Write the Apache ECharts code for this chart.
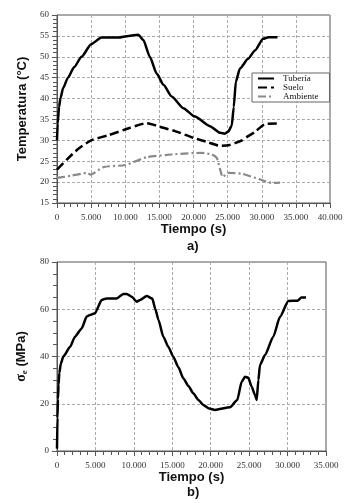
<!DOCTYPE html>
<html>
<head>
<meta charset="utf-8">
<script src="https://cdn.jsdelivr.net/npm/echarts@6/dist/echarts.min.js"></script>
<style>
  html, body { margin: 0; padding: 0; background: #fff; }
  #main { width: 350px; height: 503px; }
</style>
</head>
<body>
<div id="main"></div>
<script>
// a) temperaturas
var tiempoTub = [0, 100, 300, 500, 900, 1600, 2500, 3600, 5000, 6500, 9000, 10500, 11900, 12650, 13600, 14600, 15600, 16800, 18500, 20200, 22400, 23900, 24600, 25100, 25600, 25900, 26200, 26800, 28000, 29000, 30200, 31000, 32300];
var tempTub = [30, 34, 38, 40, 42.5, 45, 47.5, 50, 53, 54.6, 54.6, 55, 55.3, 54, 50, 46, 43.3, 40.5, 37.7, 35.7, 33.4, 31.8, 31.6, 32.1, 33.5, 38, 44, 47.2, 49.5, 51.5, 54.3, 54.7, 54.7];

var tiempoSue = [0, 1500, 3000, 5000, 7500, 10700, 13100, 15600, 17300, 20000, 22000, 23900, 25300, 26000, 27100, 28000, 29000, 30500, 32300];
var tempSue = [23, 25.5, 27.8, 30, 31.2, 33, 34.1, 33, 32.2, 30.6, 29.6, 28.7, 28.9, 29.3, 30, 31, 32, 33.9, 34];

var tiempoAmb = [0, 2000, 4400, 4900, 6800, 10000, 13200, 16100, 17300, 21200, 22700, 23400, 23900, 24300, 25000, 27100, 30000, 31500, 32700];
var tempAmb = [21, 21.5, 22.2, 21.8, 23.6, 24.1, 26, 26.5, 26.7, 27, 26.6, 25.8, 23, 21.2, 22.2, 22, 20.5, 19.8, 19.9];

// b) tension equivalente
var tiempoTen = [0, 60, 120, 200, 300, 500, 820, 1690, 2340, 3210, 3860, 4290, 4940, 5810, 6460, 7770, 8630, 9070, 9720, 10370, 10800, 11670, 12400, 12800, 13200, 13830, 14500, 15130, 15800, 16430, 17100, 17730, 18400, 19030, 19800, 20560, 22510, 23460, 24020, 24460, 24890, 25330, 25760, 25980, 26200, 26410, 27060, 28140, 29010, 30100, 31300, 31800, 32400];
var tension = [1, 14, 22, 28, 33, 37, 40, 44, 48.4, 51.9, 56.9, 57.6, 58.3, 63.9, 64.6, 64.6, 66.5, 66.5, 65.3, 63.2, 63.9, 65.6, 64.5, 60, 55.5, 48.4, 44, 39.9, 35.4, 30.8, 27.5, 24.4, 21.6, 19.5, 18, 17.4, 18.5, 21.6, 29.3, 31.4, 31, 27.2, 23.7, 21.6, 30, 36.4, 40.6, 48.4, 56.8, 63.5, 63.6, 65, 65];

var pares = function(xs, ys){
	var out = [];
	for(var i=0;i<xs.length;i++){ out.push([xs[i], ys[i]]); }
	return out;
};

var fmtMiles = function(v){
	if(v == 0) return '0';
	return (v/1000) + '.000';
};

var serif = '"Liberation Serif", "DejaVu Serif", serif';
var sans = '"Liberation Sans", Arial, sans-serif';

var ejeX = function(grid, max){
	return {
		type: 'value', gridIndex: grid, min: 0, max: max, interval: 5000,
		axisLine: { lineStyle: { color: '#555', width: 1 } },
		axisTick: { show: true, length: 5, lineStyle: { color: '#555' } },
		minorTick: { show: true, splitNumber: 5, length: 4, lineStyle: { color: '#555' } },
		axisLabel: { formatter: fmtMiles, color: '#333', fontFamily: serif, fontSize: 9, margin: 10 },
		splitLine: { show: true, lineStyle: { color: '#aaa', type: [3, 2], width: 1 } },
		name: 'Tiempo (s)', nameLocation: 'middle', nameGap: 20,
		nameTextStyle: { fontFamily: sans, fontWeight: 'bold', fontSize: 13, color: '#111' }
	};
};

var ejeY = function(grid, min, max, interval, minor, name, gap){
	return {
		type: 'value', gridIndex: grid, min: min, max: max, interval: interval,
		axisLine: { show: true, lineStyle: { color: '#555', width: 1 } },
		axisTick: { show: true, length: 5, lineStyle: { color: '#555' } },
		minorTick: { show: true, splitNumber: minor, length: 4, lineStyle: { color: '#555' } },
		axisLabel: { color: '#333', fontFamily: serif, fontSize: 9, margin: 8 },
		splitLine: { show: true, lineStyle: { color: '#aaa', type: [3, 2], width: 1 } },
		name: name, nameLocation: 'middle', nameGap: gap,
		nameTextStyle: {
			fontFamily: sans, fontWeight: 'bold', fontSize: 13, color: '#111',
			rich: {
				s: { fontFamily: serif, fontSize: 14, color: '#111' },
				sub: { fontFamily: serif, fontSize: 9, color: '#111', verticalAlign: 'bottom', padding: [6, 0, 0, 0] },
				b: { fontFamily: sans, fontWeight: 'bold', fontSize: 13, color: '#111' }
			}
		}
	};
};

var myChart = echarts.init(document.getElementById('main'));

var option = {
	animation: false,
	backgroundColor: '#fff',
	grid: [
		{ left: 57, top: 15, width: 273, height: 188, show: true, borderColor: '#555', borderWidth: 1 },
		{ left: 57, top: 262, width: 269, height: 189, show: true, borderColor: '#555', borderWidth: 1 }
	],
	xAxis: [ ejeX(0, 40000), ejeX(1, 35000) ],
	yAxis: [
		ejeY(0, 15, 60, 5, 5, 'Temperatura (°C)', 24),
		ejeY(1, 0, 80, 20, 4, '{s|σ}{sub|e}{b| (MPa)}', 24)
	],
	legend: {
		left: 252, top: 73,
		orient: 'vertical',
		data: ['Tubería', 'Suelo', 'Ambiente'],
		itemWidth: 16, itemHeight: 7, itemGap: 0,
		padding: [1, 11, 1, 5],
		borderColor: '#666', borderWidth: 1,
		backgroundColor: '#fff',
		itemStyle: { opacity: 0 },
		textStyle: { fontFamily: serif, fontSize: 9, lineHeight: 8, color: '#111', padding: [0, 0, 0, 4] }
	},
	graphic: [
		{ type: 'text', left: 187, top: 240, style: { text: 'a)', font: 'bold 13px ' + sans, fill: '#111' } },
		{ type: 'text', left: 187, top: 486, style: { text: 'b)', font: 'bold 13px ' + sans, fill: '#111' } }
	],
	series: [
		{
			name: 'Tubería', type: 'line', xAxisIndex: 0, yAxisIndex: 0,
			data: pares(tiempoTub, tempTub), symbol: 'none', smooth: 0.2, smoothMonotone: 'x',
			lineStyle: { color: '#000', width: 2.5 }, itemStyle: { color: '#000' }
		},
		{
			name: 'Suelo', type: 'line', xAxisIndex: 0, yAxisIndex: 0,
			data: pares(tiempoSue, tempSue), symbol: 'none', smooth: 0.2,
			lineStyle: { color: '#000', width: 2.5, type: [9, 4] }, itemStyle: { color: '#000' }
		},
		{
			name: 'Ambiente', type: 'line', xAxisIndex: 0, yAxisIndex: 0,
			data: pares(tiempoAmb, tempAmb), symbol: 'none', smooth: 0.2,
			lineStyle: { color: '#8a8a8a', width: 2.2, type: [8, 3, 2, 3] }, itemStyle: { color: '#8a8a8a' }
		},
		{
			name: 'Tension', type: 'line', xAxisIndex: 1, yAxisIndex: 1,
			data: pares(tiempoTen, tension), symbol: 'none', smooth: 0.2, smoothMonotone: 'x',
			lineStyle: { color: '#000', width: 2.5 }, itemStyle: { color: '#000' }
		}
	]
};

myChart.setOption(option);
</script>
</body>
</html>
